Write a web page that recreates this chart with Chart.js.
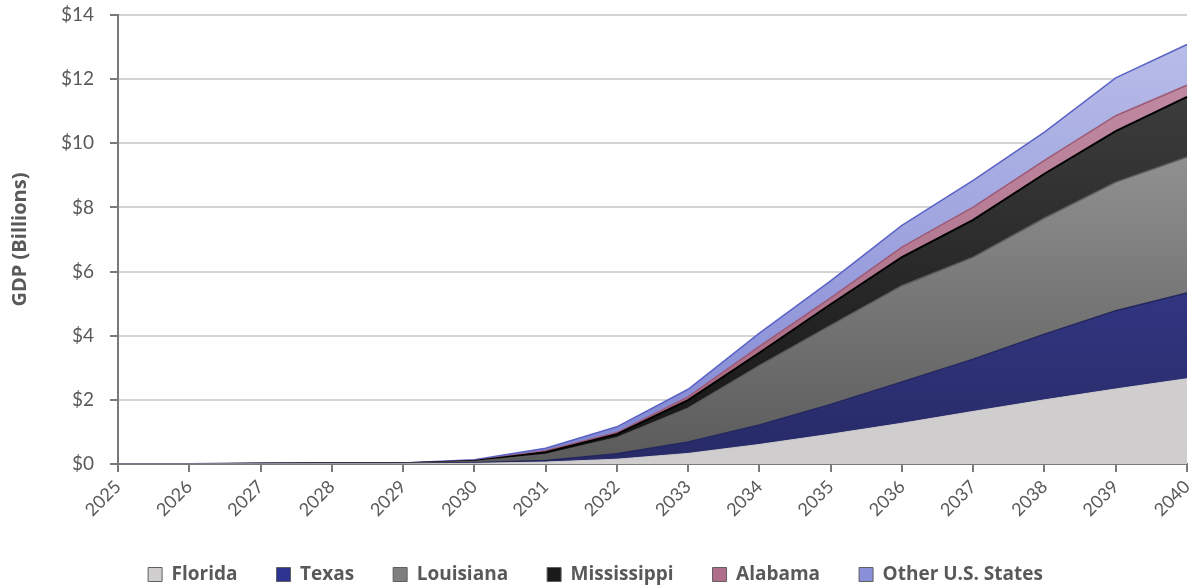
<!DOCTYPE html>
<html>
<head>
<meta charset="utf-8">
<script src="https://cdn.jsdelivr.net/npm/chart.js@4.4.1/dist/chart.umd.min.js"></script>
<style>
  html, body { margin: 0; padding: 0; background: #ffffff; }
  #wrap { width: 1194px; height: 588px; position: relative; }
</style>
</head>
<body>
<div id="wrap"><canvas id="c" width="1194" height="588"></canvas></div>
<script>
const years = ['2025','2026','2027','2028','2029','2030','2031','2032','2033','2034','2035','2036','2037','2038','2039','2040'];
const florida     = [0, 0, 0.003, 0.004, 0.005, 0.02, 0.06, 0.15, 0.33, 0.61, 0.93, 1.27, 1.64, 2.00, 2.34, 2.66];
const texas       = [0, 0, 0.003, 0.005, 0.006, 0.02, 0.05, 0.17, 0.36, 0.61, 0.93, 1.29, 1.63, 2.05, 2.44, 2.67];
const louisiana   = [0, 0, 0.005, 0.008, 0.010, 0.04, 0.19, 0.50, 1.05, 1.85, 2.46, 3.00, 3.18, 3.62, 4.01, 4.24];
const mississippi = [0, 0, 0.002, 0.003, 0.004, 0.01, 0.07, 0.11, 0.25, 0.40, 0.66, 0.89, 1.16, 1.38, 1.59, 1.88];
const alabama     = [0, 0, 0.001, 0.001, 0.002, 0.01, 0.04, 0.05, 0.10, 0.20, 0.20, 0.31, 0.40, 0.42, 0.48, 0.36];
const otherStates = [0, 0, 0.004, 0.006, 0.008, 0.03, 0.08, 0.18, 0.24, 0.41, 0.53, 0.68, 0.83, 0.88, 1.18, 1.27];
const yTicks = [0, 2, 4, 6, 8, 10, 12, 14];

const seriesDefs = [
  { label: 'Florida', data: florida, top: '#d2d0d1', bottom: '#cfcdce', border: '#c8c6c7', legend: '#d0cecf', lw: 1 },
  { label: 'Texas', data: texas, top: '#4449ab', bottom: '#272a66', border: '#23265c', legend: '#2e3290', lw: 1.5 },
  { label: 'Louisiana', data: louisiana, top: '#a9a9a9', bottom: '#5a5a5a', border: '#5c5c5c', legend: '#7f7f7f', lw: 1.5 },
  { label: 'Mississippi', data: mississippi, top: '#454545', bottom: '#141414', border: '#000000', legend: '#1a1a1a', lw: 2 },
  { label: 'Alabama', data: alabama, top: '#c490a8', bottom: '#a8657f', border: '#9c5a76', legend: '#b06e8a', lw: 1.5 },
  { label: 'Other U.S. States', data: otherStates, top: '#bcc0ea', bottom: '#7f86d2', border: '#5a62c6', legend: '#8a90d8', lw: 1.5 }
];

function grad(ctx, top, bottom) {
  const ca = ctx.chart.chartArea;
  if (!ca) return top;
  const g = ctx.chart.ctx.createLinearGradient(0, ca.top, 0, ca.bottom);
  g.addColorStop(0, top);
  g.addColorStop(1, bottom);
  return g;
}

const datasets = seriesDefs.map((s, i) => ({
  label: s.label,
  data: s.data,
  fill: i === 0 ? 'origin' : '-1',
  backgroundColor: (ctx) => grad(ctx, s.top, s.bottom),
  borderColor: s.border,
  borderWidth: s.lw,
  pointRadius: 0,
  pointHoverRadius: 0,
  tension: 0,
  legendColor: s.legend
}));

const bgPlugin = {
  id: 'bg',
  beforeDraw(chart) {
    const c = chart.ctx;
    c.save();
    c.fillStyle = '#ffffff';
    c.fillRect(0, 0, chart.width, chart.height);
    c.restore();
  }
};

const legendShift = {
  id: 'legendShift',
  afterLayout(chart) {
    if (chart.legend) {
      chart.legend.top += 6;
      chart.legend.bottom += 6;
    }
  }
};

new Chart(document.getElementById('c'), {
  type: 'line',
  data: { labels: years, datasets },
  plugins: [bgPlugin, legendShift],
  options: {
    responsive: false,
    animation: false,
    layout: { padding: { top: 15, right: 7, left: 4, bottom: 0 } },
    plugins: {
      tooltip: { enabled: false },
      legend: {
        position: 'bottom',
        labels: {
          boxWidth: 14,
          boxHeight: 14,
          padding: 39,
          color: '#595959',
          font: { family: 'Open Sans', size: 19, weight: 'bold' },
          generateLabels(chart) {
            return chart.data.datasets.map((d, i) => ({
              text: d.label,
              fillStyle: d.legendColor,
              strokeStyle: '#606060',
              lineWidth: 1,
              hidden: false,
              datasetIndex: i,
              fontColor: '#595959'
            }));
          }
        }
      }
    },
    scales: {
      x: {
        offset: false,
        afterFit(axis) { axis.paddingRight = 0; axis.paddingTop = 0; axis.paddingBottom = 0; axis.height = 56; },
        grid: { drawOnChartArea: false, drawTicks: true, tickLength: 8, tickColor: '#7a7a7a', lineWidth: 2 },
        border: { color: '#7a7a7a', width: 2 },
        ticks: {
          color: '#595959',
          font: { family: 'Lato', size: 18 },
          minRotation: 45,
          maxRotation: 45,
          autoSkip: false,
          padding: 4
        }
      },
      y: {
        stacked: true,
        min: 0,
        max: 14,
        afterFit(axis) { axis.width = 114; axis.paddingTop = 9; axis.paddingBottom = 0; },
        afterBuildTicks(axis) { axis.ticks = yTicks.map(v => ({ value: v })); },
        grid: { color: '#d4d4d4', lineWidth: 2, drawTicks: true, tickLength: 8, tickColor: '#7a7a7a' },
        border: { color: '#7a7a7a', width: 2 },
        ticks: {
          color: '#595959',
          font: { family: 'Lato', size: 19 },
          padding: 16,
          callback: (v) => '$' + v
        },
        title: {
          display: true,
          text: 'GDP (Billions)',
          color: '#595959',
          font: { family: 'Open Sans', size: 20, weight: 'bold' },
          padding: { top: 4, bottom: 14 }
        }
      }
    }
  }
});
</script>
</body>
</html>
